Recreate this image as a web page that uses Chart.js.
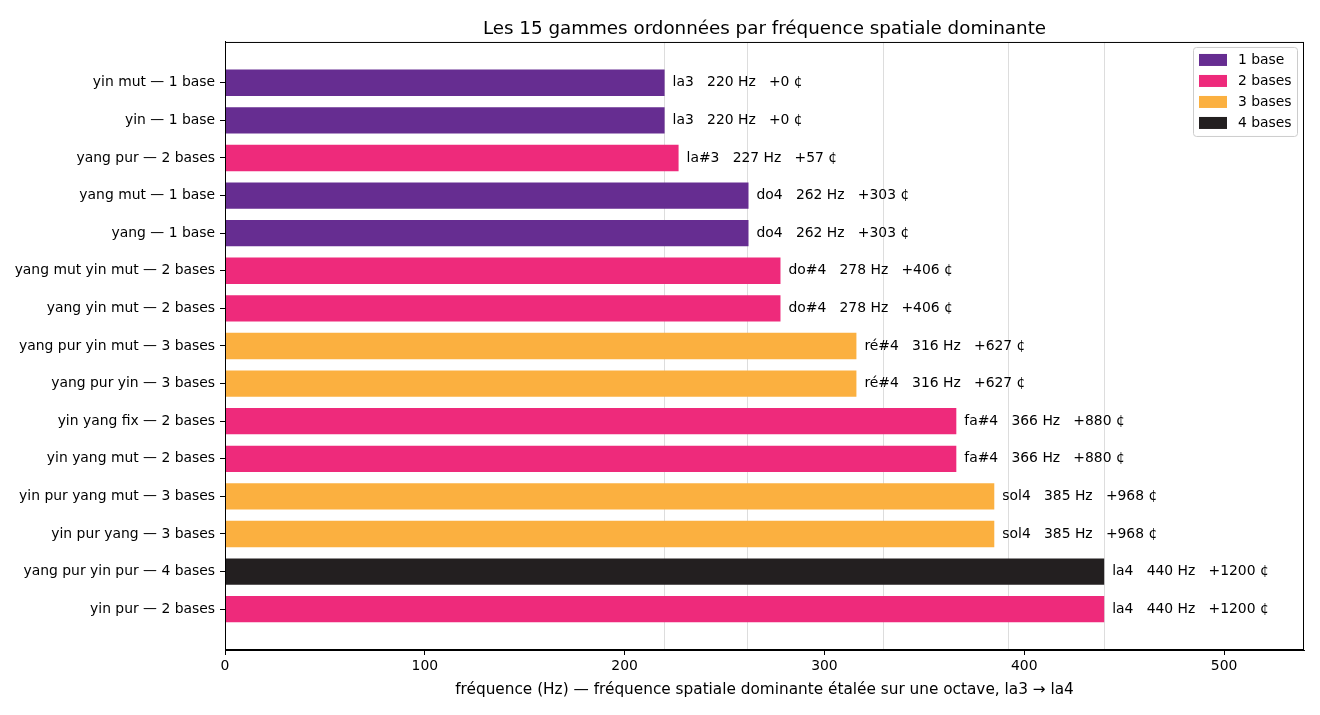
<!DOCTYPE html>
<html>
<head>
<meta charset="utf-8">
<script src="https://cdn.jsdelivr.net/npm/chart.js@4.4.1/dist/chart.umd.min.js"></script>
<style>
  html, body { margin: 0; padding: 0; background: #fff; }
</style>
</head>
<body>
<canvas id="chart" width="1320" height="715"></canvas>
<script>
const gammes = [
  "yin mut — 1 base",
  "yin — 1 base",
  "yang pur — 2 bases",
  "yang mut — 1 base",
  "yang — 1 base",
  "yang mut yin mut — 2 bases",
  "yang yin mut — 2 bases",
  "yang pur yin mut — 3 bases",
  "yang pur yin — 3 bases",
  "yin yang fix — 2 bases",
  "yin yang mut — 2 bases",
  "yin pur yang mut — 3 bases",
  "yin pur yang — 3 bases",
  "yang pur yin pur — 4 bases",
  "yin pur — 2 bases",
];
const frequences = [220, 220, 227, 262, 262, 278, 278, 316, 316, 366, 366, 385, 385, 440, 440];
const notes = ["la3", "la3", "la#3", "do4", "do4", "do#4", "do#4", "ré#4", "ré#4", "fa#4", "fa#4", "sol4", "sol4", "la4", "la4"];
const cents = [0, 0, 57, 303, 303, 406, 406, 627, 627, 880, 880, 968, 968, 1200, 1200];
const nbBases = [1, 1, 2, 1, 1, 2, 2, 3, 3, 2, 2, 3, 3, 4, 2];

const legendLabels = ["1 base", "2 bases", "3 bases", "4 bases"];
const baseColors = ["#662d91", "#ee2a7b", "#fbb040", "#231f20"];

const xTicks = [0, 100, 200, 300, 400, 500];
// vertical reference lines (la3, do4, mi4, sol4, la4)
const noteLines = [220, 261.63, 329.63, 392, 440];

const FONT = "DejaVu Sans";

const extras = {
  id: "extras",
  afterDatasetsDraw(chart) {
    const { ctx } = chart;
    const meta = chart.getDatasetMeta(0);
    ctx.save();
    ctx.font = `13.9px "${FONT}"`;
    ctx.fillStyle = "#000";
    ctx.textBaseline = "middle";
    ctx.textAlign = "left";
    meta.data.forEach((bar, i) => {
      const txt = `${notes[i]}   ${frequences[i]} Hz   +${cents[i]} ¢`;
      ctx.fillText(txt, bar.x + 8, bar.y);
    });
    ctx.restore();
  },
  afterDraw(chart) {
    const { ctx, chartArea: a } = chart;
    ctx.save();
    // frame
    ctx.strokeStyle = "#000";
    ctx.lineWidth = 1;
    ctx.strokeRect(a.left + 0.5, a.top + 0.5, a.width - 1, a.height - 1);

    // legend box, top right inside the plot
    const w = 104, h = 89;
    const x0 = a.right - 7 - w, y0 = a.top + 5;
    ctx.fillStyle = "rgba(255,255,255,0.8)";
    ctx.strokeStyle = "#cccccc";
    ctx.beginPath();
    ctx.roundRect(x0 + 0.5, y0 + 0.5, w, h, 3);
    ctx.fill();
    ctx.stroke();
    ctx.font = `13.9px "${FONT}"`;
    ctx.textBaseline = "middle";
    legendLabels.forEach((lab, k) => {
      const cy = y0 + 13 + k * 21;
      ctx.fillStyle = baseColors[k];
      ctx.fillRect(x0 + 6, cy - 6, 28, 12);
      ctx.fillStyle = "#000";
      ctx.fillText(lab, x0 + 45, cy);
    });
    ctx.restore();
  },
};

new Chart(document.getElementById("chart"), {
  type: "bar",
  data: {
    datasets: [{
      data: frequences.map((v, i) => ({ x: v, y: i })),
      backgroundColor: nbBases.map((b) => baseColors[b - 1]),
      borderWidth: 0,
      barPercentage: 0.7,
      categoryPercentage: 1,
    }],
  },
  options: {
    indexAxis: "y",
    responsive: false,
    animation: false,
    devicePixelRatio: 1,
    layout: { padding: { left: 0, right: 16, top: 0, bottom: 16 } },
    plugins: {
      legend: { display: false },
      tooltip: { enabled: false },
      title: {
        display: true,
        fullSize: false,
        text: "Les 15 gammes ordonnées par fréquence spatiale dominante",
        color: "#000",
        font: { family: FONT, size: 18.3, weight: "normal", lineHeight: 1.2 },
        padding: { top: 18, bottom: 2 },
      },
    },
    scales: {
      x: {
        type: "linear",
        position: "bottom",
        min: 0,
        max: 540,
        afterBuildTicks: (s) => { s.ticks = xTicks.map((v) => ({ value: v })); },
        afterFit: (s) => { s.height = 49; },
        ticks: { color: "#000", font: { family: FONT, size: 13.9 }, padding: 3, maxRotation: 0 },
        grid: { drawOnChartArea: false, drawTicks: true, tickLength: 5, tickColor: "#000" },
        border: { color: "#000", width: 1 },
        title: {
          display: true,
          text: "fréquence (Hz) — fréquence spatiale dominante étalée sur une octave, la3 → la4",
          color: "#000",
          font: { family: FONT, size: 15.3 },
          padding: { top: 2, bottom: 0 },
        },
      },
      notes: {
        type: "linear",
        axis: "x",
        position: "top",
        min: 0,
        max: 540,
        afterBuildTicks: (s) => { s.ticks = noteLines.map((v) => ({ value: v })); },
        ticks: { display: false },
        grid: { color: "#dddddd", lineWidth: 1, drawTicks: false },
        border: { display: false },
      },
      y: {
        type: "linear",
        reverse: true,
        offset: false,
        min: -1.085,
        max: 15.085,
        afterBuildTicks: (s) => { s.ticks = gammes.map((_, i) => ({ value: i })); },
        afterFit: (s) => { s.width = 225; },
        ticks: {
          color: "#000",
          font: { family: FONT, size: 13.9 },
          padding: 5,
          callback: (v) => gammes[v],
        },
        grid: { offset: false, drawOnChartArea: false, drawTicks: true, tickLength: 5, tickColor: "#000" },
        border: { color: "#000", width: 1 },
      },
    },
  },
  plugins: [extras],
});
</script>
</body>
</html>
